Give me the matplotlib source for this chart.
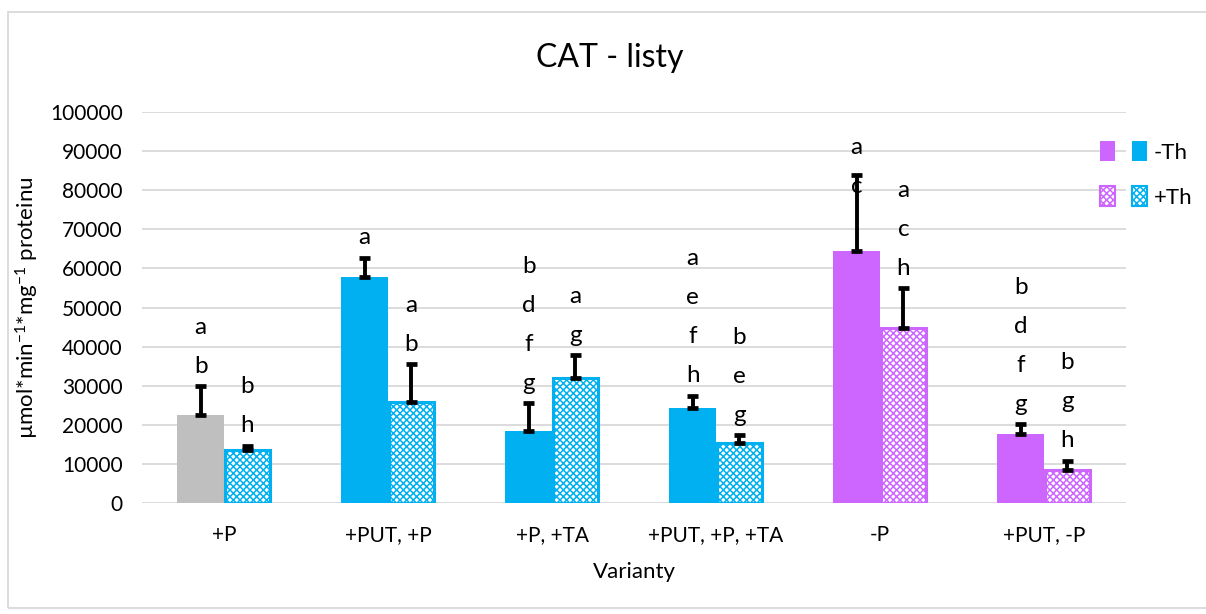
import matplotlib
matplotlib.use("Agg")
import matplotlib.pyplot as plt
import numpy as np
from matplotlib.patches import Rectangle, Patch
from matplotlib.legend_handler import HandlerTuple

plt.rcParams['font.family'] = ['Lato', 'DejaVu Sans']
plt.rcParams['mathtext.fontset'] = 'custom'
plt.rcParams['mathtext.rm'] = 'Lato'
plt.rcParams['mathtext.it'] = 'Lato'
plt.rcParams['hatch.linewidth'] = 1.1

# ---- data ----
categories = ['+P', '+PUT, +P', '+P, +TA', '+PUT, +P, +TA', '-P', '+PUT, -P']
minus_th = [22500, 57700, 18500, 24200, 64400, 17600]
minus_th_err = [7300, 5000, 7000, 3200, 19500, 2500]
plus_th = [13600, 25900, 32000, 15400, 44700, 8400]
plus_th_err = [1000, 9600, 5800, 2000, 10200, 2400]
minus_th_letters = [['a', 'b'], ['a'], ['b', 'd', 'f', 'g'], ['a', 'e', 'f', 'h'],
                    ['a', 'c'], ['b', 'd', 'f', 'g']]
plus_th_letters = [['b', 'h'], ['a', 'b'], ['a', 'g'], ['b', 'e', 'g'],
                   ['a', 'c', 'h'], ['b', 'g', 'h']]

GRAY = '#bfbfbf'
BLUE = '#00b0f0'
PURPLE = '#cc66ff'
bar_colors = [GRAY, BLUE, BLUE, BLUE, PURPLE, PURPLE]
hatch_colors = [BLUE, BLUE, BLUE, BLUE, PURPLE, PURPLE]

fig = plt.figure(figsize=(12.06, 6.14), dpi=100)
ax = fig.add_axes([142 / 1206, 1 - 503 / 614, 984 / 1206, 391 / 614])

x = np.arange(len(categories))
w = 0.2857

ax.set_axisbelow(True)
ax.yaxis.grid(True, color='#d9d9d9', linewidth=1.3)

ax.bar(x - w / 2, minus_th, width=w, color=bar_colors, linewidth=0, zorder=2)
for xi, v, c in zip(x + w / 2, plus_th, hatch_colors):
    ax.bar(xi, v, width=w * 0.97, facecolor='white', edgecolor=c, hatch='xxxxx',
           linewidth=2.2, zorder=2)

# one-sided error bars with caps at both ends
def draw_err(xs, vals, errs):
    for xi, v, e in zip(xs, vals, errs):
        ax.plot([xi, xi], [v, v + e], color='black', linewidth=2.8, zorder=4,
                solid_capstyle='butt')
        for yy in (v, v + e):
            ax.plot([xi - 0.036, xi + 0.036], [yy, yy], color='black',
                    linewidth=3.4, zorder=4, solid_capstyle='butt')

draw_err(x - w / 2, minus_th, minus_th_err)
draw_err(x + w / 2, plus_th, plus_th_err)

# significance letters stacked above each error bar
gap, step, top_limit = 5100, 9970, 91000
def draw_letters(xs, vals, errs, letters):
    for xi, v, e, ls in zip(xs, vals, errs, letters):
        base = v + e + gap
        n = len(ls)
        top = base + (n - 1) * step
        if top > top_limit:
            base -= top - top_limit
        for k, letter in enumerate(reversed(ls)):
            ax.text(xi, base + k * step, letter, ha='center', va='center',
                    fontsize=17.5, color='black', zorder=5)

draw_letters(x - w / 2, minus_th, minus_th_err, minus_th_letters)
draw_letters(x + w / 2, plus_th, plus_th_err, plus_th_letters)

ax.set_xlim(-0.5, len(categories) - 0.5)
ax.set_ylim(0, 100000)
ax.set_yticks(np.arange(0, 100001, 10000))
ax.set_yticklabels([str(v) for v in range(0, 100001, 10000)])
ax.set_xticks(x)
ax.set_xticklabels(categories)
ax.tick_params(axis='y', length=0, pad=14, labelsize=15, labelcolor='#000000')
ax.tick_params(axis='x', length=0, pad=16, labelsize=15, labelcolor='#000000')
for s in ['left', 'right', 'top', 'bottom']:
    ax.spines[s].set_visible(False)

ax.set_ylabel('µmol*min$^{-1}$*mg$^{-1}$ proteinu', fontsize=16, labelpad=6)
ax.set_xlabel('Varianty', fontsize=16, labelpad=12)
fig.text(610 / 1206, 1 - 58 / 614, 'CAT - listy', ha='center', va='center',
         fontsize=23)

# legend with paired swatches
h_minus = (Patch(facecolor=PURPLE, edgecolor='none'),
           Patch(facecolor=BLUE, edgecolor='none'))
h_plus = (Patch(facecolor='white', edgecolor=PURPLE, hatch='xxxxx', linewidth=1.5),
          Patch(facecolor='white', edgecolor=BLUE, hatch='xxxxx', linewidth=1.5))
fig.legend([h_minus, h_plus], ['-Th', '+Th'],
           handler_map={tuple: HandlerTuple(ndivide=None, pad=0.8)},
           loc='upper left', bbox_to_anchor=(1089 / 1206, 1 - 130 / 614),
           frameon=False, fontsize=16, handlelength=2.1, handleheight=1.0,
           handletextpad=0.3, labelspacing=1.05, borderpad=0)

# chart frame
fig.patches.append(Rectangle((8 / 1206, 6 / 614), 1.0, 1 - 18 / 614,
                             transform=fig.transFigure, fill=False,
                             edgecolor='#d9d9d9', linewidth=1.3))

fig.savefig('out.png', dpi=100)
